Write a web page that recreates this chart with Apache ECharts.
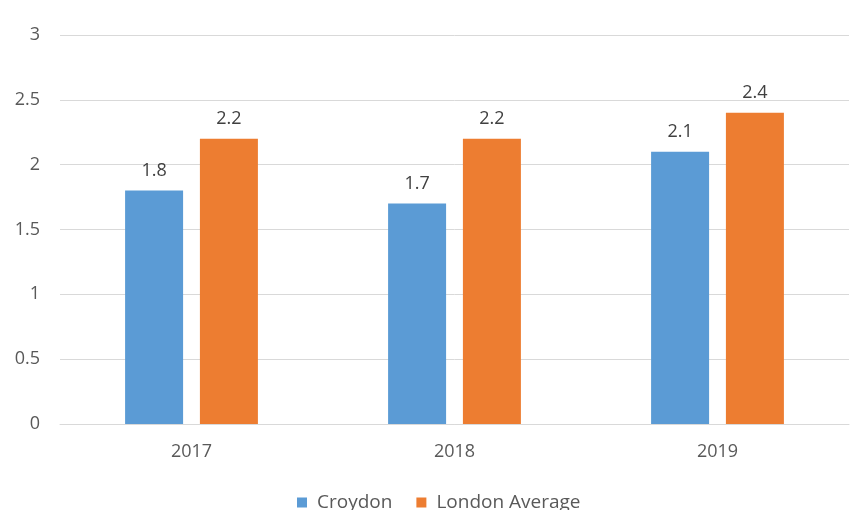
<!DOCTYPE html>
<html>
<head>
<meta charset="utf-8">
<script src="https://cdn.jsdelivr.net/npm/echarts@6/dist/echarts.min.js"></script>
<style>
  html, body { margin: 0; padding: 0; background: #fff; }
  #chart { width: 856px; height: 510px; }
</style>
</head>
<body>
<div id="chart"></div>
<script>
const years = ['2017', '2018', '2019'];
const croydon = [1.8, 1.7, 2.1];
const londonAverage = [2.2, 2.2, 2.4];
const yTicks = { min: 0, max: 3, interval: 0.5 };

const font = '"Open Sans", "Noto Sans", sans-serif';
const chart = echarts.init(document.getElementById('chart'), null, { renderer: 'canvas' });

const labelStyle = {
  show: true,
  position: 'top',
  distance: 11,
  color: '#404040',
  fontSize: 18,
  fontFamily: font
};

chart.setOption({
  animation: false,
  backgroundColor: '#ffffff',
  textStyle: { fontFamily: font },
  grid: { left: 60, right: 7, top: 35, bottom: 86, containLabel: false },
  legend: {
    bottom: -7,
    left: 292,
    itemWidth: 10,
    itemHeight: 10,
    itemGap: 24,
    icon: 'rect',
    textStyle: { color: '#595959', fontSize: 19, fontFamily: font, padding: [0, 0, 0, 5] },
    data: ['Croydon', 'London Average']
  },
  xAxis: {
    type: 'category',
    data: years,
    axisLine: { show: true, lineStyle: { color: '#d9d9d9', width: 1 } },
    axisTick: { show: false },
    axisLabel: { color: '#595959', fontSize: 18, fontFamily: font, margin: 19 }
  },
  yAxis: {
    type: 'value',
    min: yTicks.min,
    max: yTicks.max,
    interval: yTicks.interval,
    axisLine: { show: false },
    axisTick: { show: false },
    splitLine: { lineStyle: { color: '#d9d9d9', width: 1 } },
    axisLabel: { color: '#595959', fontSize: 18, fontFamily: font, margin: 20 }
  },
  series: [
    {
      name: 'Croydon',
      type: 'bar',
      data: croydon,
      barWidth: 58,
      barGap: '29%',
      itemStyle: { color: '#5b9bd5' },
      label: labelStyle
    },
    {
      name: 'London Average',
      type: 'bar',
      data: londonAverage,
      barWidth: 58,
      itemStyle: { color: '#ed7d31' },
      label: labelStyle
    }
  ]
});
</script>
</body>
</html>
